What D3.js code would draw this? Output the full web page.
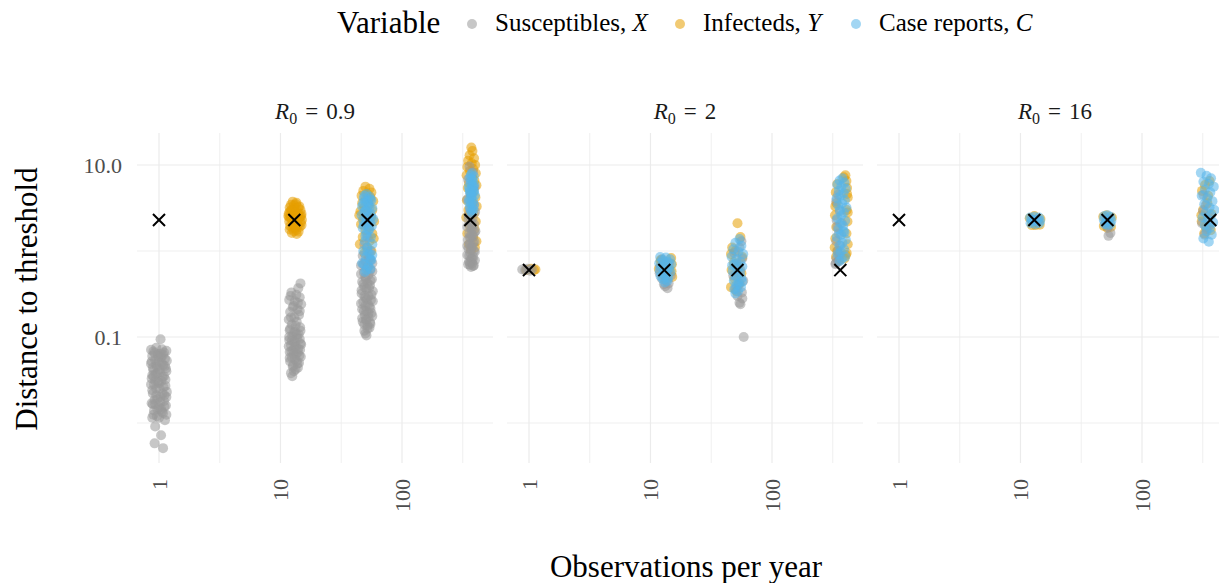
<!DOCTYPE html>
<html>
<head>
<meta charset="utf-8">
<script src="https://cdn.jsdelivr.net/npm/d3@7"></script>
<style>
  body { margin: 0; background: #fff; }
  svg { display: block; font-family: "Liberation Serif", "Times New Roman", serif; }
</style>
</head>
<body>
<div id="chart"></div>
<script>
// --- data ---

const observations = [1, 13, 52, 365];
const facetLabels = ["0.9", "2", "16"];
const truthValues = [2.29, 0.60, 2.29];

const variableNames = ["Susceptibles, ", "Infecteds, ", "Case reports, "];
const variableSymbols = ["X", "Y", "C"];
const variableColors = ["#999999", "#E69F00", "#56B4E9"];

const xTicks = [1, 10, 100];
const xMinor = [3.162, 31.62, 316.2];
const yTicks = [0.1, 10];
const yTickLabels = ["0.1", "10.0"];
const yMinor = [0.01, 1];

// [observations per year (jittered), distance to threshold]
const susceptibles09 = [
  // 1 per year
  [1.03,0.094],[0.95,0.075],[1.06,0.072],[0.90,0.068],[1.10,0.066],[0.98,0.063],[0.88,0.060],[1.04,0.058],
  [1.12,0.056],[0.93,0.054],[1.00,0.051],[0.86,0.049],[1.08,0.047],[0.96,0.045],[1.14,0.043],[0.90,0.041],
  [1.02,0.039],[0.94,0.037],[1.10,0.035],[0.87,0.033],[1.05,0.031],[0.98,0.030],[0.91,0.028],[1.13,0.027],
  [1.01,0.025],[0.88,0.024],[1.07,0.022],[0.95,0.021],[1.15,0.020],[0.92,0.0185],[1.03,0.0175],[0.89,0.0165],
  [1.11,0.0155],[0.97,0.0145],[1.06,0.0135],[0.90,0.0125],[1.00,0.0115],[1.12,0.0108],[0.93,0.0091],
  [1.04,0.0072],[0.92,0.0058],[1.08,0.0051],
  [0.86,0.071],[1.15,0.069],[0.92,0.065],[1.08,0.062],[0.99,0.059],[1.16,0.053],[0.87,0.052],[1.05,0.050],
  [0.95,0.048],[1.12,0.046],[0.89,0.044],[1.01,0.042],[1.15,0.040],[0.97,0.038],[0.88,0.036],[1.07,0.034],
  [1.13,0.032],[0.93,0.031],[1.00,0.029],[0.86,0.028],[1.09,0.026],[0.95,0.025],[1.16,0.023],[0.89,0.022],
  [1.03,0.020],[0.97,0.019],[1.10,0.018],[0.87,0.017],[1.14,0.016],[1.00,0.015],[0.91,0.014],[1.08,0.013],
  [0.96,0.012],[0.88,0.0115],[1.15,0.0125],[1.04,0.0145],[0.93,0.0165],[1.11,0.021],[0.90,0.035],[1.03,0.064],
  // 13 per year
  [14.6,0.42],[14.0,0.37],[12.3,0.33],[13.5,0.31],[14.4,0.29],[11.8,0.27],[13.1,0.26],[14.8,0.24],[12.6,0.22],
  [13.8,0.21],[12.0,0.195],[14.2,0.18],[13.0,0.17],[11.7,0.16],[13.6,0.15],[12.4,0.14],[14.5,0.13],[11.9,0.12],
  [13.2,0.115],[14.1,0.108],[12.5,0.102],[13.7,0.097],[11.8,0.092],[12.9,0.088],[14.6,0.084],[12.2,0.080],
  [13.4,0.077],[14.0,0.073],[12.7,0.070],[11.9,0.067],[13.5,0.064],[14.3,0.061],[12.4,0.058],[13.1,0.055],
  [12.0,0.052],[13.8,0.049],[12.6,0.045],[13.3,0.042],[12.2,0.038],[12.5,0.035],
  [12.1,0.30],[13.9,0.25],[12.8,0.23],[14.4,0.20],[12.2,0.17],[13.3,0.135],[12.0,0.125],[14.6,0.118],
  [12.8,0.112],[13.6,0.106],[11.8,0.100],[14.4,0.095],[12.4,0.091],[13.2,0.087],[14.8,0.082],[11.7,0.078],
  [13.0,0.075],[14.5,0.071],[12.3,0.068],[13.9,0.066],[12.9,0.063],[14.7,0.059],[11.9,0.057],[13.6,0.053],
  [14.2,0.050],[12.7,0.047],[13.9,0.044],[12.9,0.040],
  // 52 per year
  [52,1.45],[49,1.2],[55,1.0],[47.5,0.88],[53.5,0.82],[50,0.76],[57,0.72],[46,0.68],[51.5,0.64],[55,0.60],
  [48.5,0.56],[53,0.53],[50,0.50],[56.5,0.47],[47,0.44],[52,0.42],[54.5,0.40],[49,0.38],[51,0.36],[57.5,0.34],
  [46.5,0.32],[53,0.30],[50,0.285],[55.5,0.27],[48,0.255],[52.5,0.24],[54,0.225],[47,0.21],[51,0.20],[56,0.19],
  [49.5,0.18],[53,0.17],[50.5,0.16],[47.5,0.15],[55,0.142],[52,0.135],[54,0.128],[49,0.118],[50,0.11],[51,0.104],
  [55,0.78],[48,0.70],[52.5,0.66],[57,0.58],[46,0.54],[50.5,0.47],[55,0.45],[48,0.41],[53.5,0.37],[46.5,0.35],
  [56,0.31],[49,0.30],[51.5,0.275],[57.5,0.26],[46,0.245],[50,0.23],[55,0.215],[48.5,0.20],[53,0.19],[57,0.175],
  [47,0.165],[51,0.155],[54.5,0.148],[49,0.14],[52,0.125],
  // 365 per year
  [360,9.6],[385,8.2],[350,6.8],[395,5.5],[372,4.6],[345,4.0],[390,3.5],[362,3.1],[400,2.85],[352,2.6],
  [380,2.4],[368,2.2],[392,2.05],[345,1.9],[375,1.8],[402,1.7],[358,1.6],[385,1.5],[370,1.42],[348,1.35],
  [395,1.28],[362,1.2],[380,1.13],[352,1.06],[390,1.0],[366,0.95],[345,0.9],[384,0.86],[372,0.82],[398,0.78],
  [356,0.75],[378,0.72],[362,0.69],[385,0.67],[370,0.65],
  [352,2.3],[378,2.0],[395,1.65],[360,1.45],[385,1.25],[345,1.15],[372,1.08],[398,0.98],[358,0.88],[382,0.8],
  [366,0.74],[350,0.70],[390,0.68],[375,1.55],[365,1.9]
];
const infecteds09 = [
  [12.6,3.75],[13.5,3.65],[12.2,3.45],[13.4,3.5],[14.3,3.3],[11.9,3.2],[13.0,3.1],[14.6,3.0],[12.5,2.95],
  [13.8,2.85],[11.7,2.75],[14.9,2.7],[12.8,2.6],[13.6,2.55],[12.1,2.45],[14.2,2.4],[13.1,2.3],[11.8,2.2],
  [14.7,2.15],[12.6,2.1],[13.9,2.0],[12.0,1.95],[14.4,1.9],[13.3,1.85],[11.9,1.78],[12.9,1.7],[14.1,1.68],
  [12.4,1.62],[13.6,1.58],[14.5,2.5],[11.6,2.55],[15.0,2.3],
  [12.9,3.4],[14.0,3.2],[12.3,3.0],[13.3,2.8],[14.8,2.55],[12.4,2.35],[13.7,2.25],[14.9,2.0],[12.5,1.85],
  [13.5,1.75],[11.8,2.45],[13.0,1.9],[14.0,2.7],[12.0,2.9],
  [50,5.6],[54,5.3],[48,5.0],[56,4.8],[52,4.6],[46.5,4.4],[55,4.2],[50.5,4.0],[58,3.8],[47,3.6],[53,3.4],
  [49,3.2],[57,3.0],[45.5,2.9],[51,2.7],[55.5,2.5],[48,2.35],[59,2.2],[46,2.05],[53.5,1.9],[50,1.75],[57,1.6],
  [47.5,1.45],[54,1.3],[45,1.2],[51.5,1.1],[56,1.0],[49,0.95],[58.5,1.4],[44.5,2.6],
  [372,16.0],[380,14.5],[360,13.0],[392,12.0],[350,11.2],[375,10.5],[400,10.0],[345,9.5],[385,9.0],[362,8.5],
  [405,8.0],[340,7.6],[378,7.1],[395,6.6],[355,6.2],[410,5.8],[348,5.4],[388,5.0],[368,4.6],[402,4.2],[342,3.9],
  [380,3.6],[412,3.3],[352,3.0],[390,2.7],[338,2.45],[405,2.2],[360,2.0],[395,1.8],[345,1.6],[385,1.45],
  [410,1.3],[355,1.2],[398,1.1],[370,1.03]
];
const cases09 = [
  [51,4.6],[54,4.3],[48.5,4.1],[56,3.9],[50,3.7],[53,3.5],[47,3.3],[57,3.15],[51.5,3.0],[49,2.85],[55,2.7],
  [46.5,2.6],[52.5,2.45],[58,2.35],[48,2.25],[54.5,2.15],[50.5,2.05],[56.5,1.95],[47.5,1.85],[53,1.75],[51,1.6],
  [55.5,1.45],[49.5,1.3],[57,1.2],[52,1.1],[48,1.0],[54,0.92],[50.5,0.85],[56,0.78],[47,0.72],[53,0.66],
  [51,0.6],[49.5,0.57],[55,0.62],
  [49,4.4],[55,4.0],[52,3.8],[48,3.6],[54,3.2],[50,2.9],[56,2.5],[51,2.3],[48.5,2.0],[54,1.8],[50,1.5],
  [52,1.0],[55,0.8],[49,0.7],[57,0.9],
  [375,8.0],[390,7.4],[360,7.0],[382,6.6],[368,6.2],[395,5.9],[355,5.6],[378,5.3],[388,5.0],[365,4.7],
  [398,4.45],[372,4.2],[358,4.0],[385,3.8],[370,3.6],[392,3.4],[362,3.25],[380,3.1],[368,2.95],[375,2.8],
  [384,5.6],[362,4.9],[373,6.8],
  [368,7.6],[380,5.8],[360,5.2],[392,4.9],[375,4.4],[355,3.7],[388,3.0]
];

const susceptibles2 = [
  [0.88,0.61],[0.93,0.60],[0.97,0.62],[1.02,0.59],[1.06,0.61],
  [12.5,0.80],[14.2,0.72],[12.0,0.65],[13.6,0.58],[14.7,0.52],[12.4,0.48],[13.5,0.45],[14.1,0.42],[13.2,0.39],
  [13.8,0.37],[12.9,0.41],[11.9,0.55],
  [56,1.3],[54,1.1],[49,0.95],[57,0.82],[51,0.7],[55,0.6],[48,0.52],[58,0.45],[53,0.40],[50,0.36],[56.5,0.33],
  [52,0.30],[57,0.28],[54,0.25],[55,0.24],[58.5,0.10],
  [350,4.5],[338,3.8],[362,2.9],[340,2.3],[375,2.1],[345,1.9],[355,1.6],[338,1.3],[365,1.15],[348,1.0],
  [358,0.9],[340,0.82],[335,0.72],[333,0.70],[352,0.76]
];
const infecteds2 = [
  [0.95,0.60],[1.04,0.62],[1.10,0.60],[1.13,0.61],
  [14.8,0.83],[12.2,0.79],[15.0,0.70],[13.5,0.66],[11.7,0.62],[14.9,0.58],[12.9,0.55],[15.1,0.50],[13.3,0.47],
  [12.1,0.76],[14.3,0.60],[13.0,0.52],
  [52,2.1],[55,1.45],[47,1.1],[50,1.0],[46,0.92],[57,0.85],[48.5,0.74],[53,0.66],[46.5,0.6],[56,0.55],
  [49,0.48],[54,0.42],[46,0.38],[51,0.34],
  [402,7.6],[390,7.2],[410,6.5],[345,6.0],[415,5.4],[335,4.8],[420,4.2],[340,3.6],[412,3.0],[330,2.6],
  [418,2.2],[338,1.9],[410,1.6],[332,1.4],[420,1.2],[345,1.0],[405,0.9],[336,0.85],[395,0.82],[355,0.78],
  [412,0.95],[328,1.1],[420,2.8],[332,3.3],[415,4.6]
];
const cases2 = [
  [12.0,0.85],[13.4,0.84],[14.5,0.80],[12.6,0.78],[13.9,0.75],[11.8,0.72],[14.8,0.70],[13.0,0.68],[12.3,0.65],
  [14.2,0.63],[13.6,0.61],[11.9,0.59],[14.6,0.57],[12.8,0.55],[13.3,0.53],[12.1,0.51],[14.0,0.49],[12.7,0.47],
  [13.8,0.45],[13.1,0.43],
  [54,1.38],[50,1.25],[56,1.15],[48,1.05],[53,0.98],[58,0.92],[46.5,0.86],[51,0.80],[55,0.75],[49,0.70],
  [57,0.66],[52,0.62],[47.5,0.58],[54.5,0.55],[50.5,0.51],[56,0.48],[48.5,0.45],[53,0.42],[51,0.40],[55.5,0.38],
  [49,0.36],[52.5,0.34],[50,0.32],[57,0.44],[47,0.68],
  [380,7.0],[360,6.6],[395,6.2],[345,5.9],[372,5.6],[405,5.3],[355,5.0],[388,4.7],[368,4.4],[340,4.1],
  [398,3.9],[378,3.6],[350,3.4],[410,3.2],[362,3.0],[390,2.8],[372,2.6],[345,2.4],[400,2.25],[365,2.1],
  [385,1.95],[352,1.8],[395,1.65],[370,1.55],[342,1.45],[405,1.35],[380,1.25],[358,1.15],[392,1.05],[368,0.98],
  [348,0.92],[400,0.86],[375,0.80],[360,0.76],[388,1.7]
];

const susceptibles16 = [
  [12.5,2.3],[13.5,2.2],[13.0,2.28],[14.0,2.3],
  [53,1.5],[55,1.62],[52,1.9],[50,2.1],
  [335,3.4],[318,2.9],[350,2.5],[312,2.1],[340,1.8],[328,1.55],[360,2.0],[320,4.5]
];
const infecteds16 = [
  [11.9,2.4],[14.6,2.35],[12.4,2.0],[14.4,2.02],[13.0,2.55],[13.3,2.0],
  [48,2.5],[56.5,2.45],[48.5,1.95],[55.5,1.9],[52,1.85],[51,2.6],
  [330,5.85],[360,6.5],[312,5.0],[345,3.6],[318,3.0],[372,2.7],[310,2.2],[335,1.9],[325,1.6],[368,1.75],
  [308,2.6],[350,4.4]
];
const cases16 = [
  [12.0,2.45],[13.0,2.5],[14.2,2.45],[12.3,2.3],[13.6,2.3],[14.5,2.25],[12.1,2.1],[13.2,2.05],[14.3,2.1],[12.8,2.2],
  [49,2.55],[52,2.6],[55,2.5],[48.5,2.3],[53,2.3],[56,2.25],[49.5,2.05],[52.5,2.0],[55,2.05],[51,2.2],
  [305,8.1],[340,7.5],[370,7.0],[320,6.4],[355,6.0],[390,5.6],[330,5.2],[365,4.8],[310,4.4],[345,4.1],
  [380,3.8],[325,3.5],[360,3.2],[395,3.0],[335,2.8],[370,2.6],[315,2.45],[350,2.3],[385,2.15],[328,2.0],
  [362,1.85],[340,1.7],[375,1.55],[320,1.4],[355,1.28]
];

const facetSeries = [
  [susceptibles09, infecteds09, cases09],
  [susceptibles2, infecteds2, cases2],
  [susceptibles16, infecteds16, cases16]
];

// --- layout ---

const W = 1219, H = 583;
const panelLeft = [137, 507, 877];
const panelW = 356, panelTop = 133, panelH = 330;
const pointAlpha = 0.55;
const drawOrder = [1, 0, 2]; // infecteds under susceptibles under case reports

const svg = d3.select("#chart").append("svg")
    .attr("width", W)
    .attr("height", H);

const x = d3.scaleLog()
    .domain([Math.pow(10, -0.181), Math.pow(10, 2.749)])
    .range([0, panelW]);

const y = d3.scaleLog()
    .domain([Math.pow(10, -2.465), Math.pow(10, 1.372)])
    .range([panelH, 0]);

const cross = d3.symbol().type(d3.symbolTimes).size(96);

facetLabels.forEach((label, i) => {
    const g = svg.append("g")
        .attr("transform", `translate(${panelLeft[i]},${panelTop})`);

    // grid: minor then major
    g.selectAll(".ygm").data(yMinor).join("line")
        .attr("x1", 0).attr("x2", panelW)
        .attr("y1", d => y(d)).attr("y2", d => y(d))
        .attr("stroke", "#ebebeb").attr("stroke-width", 0.8);
    g.selectAll(".xgm").data(xMinor).join("line")
        .attr("x1", d => x(d)).attr("x2", d => x(d))
        .attr("y1", 0).attr("y2", panelH)
        .attr("stroke", "#ebebeb").attr("stroke-width", 0.8);
    g.selectAll(".yg").data(yTicks).join("line")
        .attr("x1", 0).attr("x2", panelW)
        .attr("y1", d => y(d)).attr("y2", d => y(d))
        .attr("stroke", "#ebebeb").attr("stroke-width", 1.2);
    g.selectAll(".xg").data(xTicks).join("line")
        .attr("x1", d => x(d)).attr("x2", d => x(d))
        .attr("y1", 0).attr("y2", panelH)
        .attr("stroke", "#ebebeb").attr("stroke-width", 1.2);

    // x tick labels, rotated
    g.selectAll(".xl").data(xTicks).join("text")
        .attr("transform", d => `translate(${x(d)},${panelH + 16}) rotate(-90)`)
        .attr("text-anchor", "end")
        .attr("dy", "0.35em")
        .attr("fill", "#4d4d4d")
        .style("font-size", "22px")
        .text(d => d3.format("d")(d));

    // y tick labels on first panel only
    if (i === 0) {
        g.selectAll(".yl").data(yTicks).join("text")
            .attr("x", -15)
            .attr("y", d => y(d))
            .attr("dy", "0.35em")
            .attr("text-anchor", "end")
            .attr("fill", "#4d4d4d")
            .style("font-size", "22px")
            .text((d, k) => yTickLabels[k]);
    }

    // strip title: R_0 = value
    const strip = g.append("text")
        .attr("x", panelW / 2)
        .attr("y", -14)
        .attr("text-anchor", "middle")
        .attr("fill", "#1a1a1a")
        .style("font-size", "23px");
    strip.append("tspan").style("font-style", "italic").text("R");
    strip.append("tspan").attr("dy", 5).style("font-size", "16px").text("0");
    strip.append("tspan").attr("dy", -5).attr("dx", 8).text("=");
    strip.append("tspan").attr("dx", 8).text(label);

    // points
    drawOrder.forEach(k => {
        g.append("g").selectAll("circle").data(facetSeries[i][k]).join("circle")
            .attr("cx", d => x(d[0]))
            .attr("cy", d => y(d[1]))
            .attr("r", 5)
            .attr("fill", variableColors[k])
            .attr("fill-opacity", pointAlpha);
    });

    // true values
    g.selectAll(".truth").data(observations).join("path")
        .attr("transform", d => `translate(${x(d)},${y(truthValues[i])})`)
        .attr("d", cross)
        .attr("fill", "none")
        .attr("stroke", "#000")
        .attr("stroke-width", 2);
});

// axis titles
svg.append("text")
    .attr("x", 686)
    .attr("y", 577)
    .attr("text-anchor", "middle")
    .style("font-size", "31px")
    .text("Observations per year");

svg.append("text")
    .attr("transform", "translate(37,299) rotate(-90)")
    .attr("text-anchor", "middle")
    .style("font-size", "31px")
    .text("Distance to threshold");

// legend
const legend = svg.append("g");
legend.append("text")
    .attr("x", 337).attr("y", 33)
    .style("font-size", "31px")
    .text("Variable");

const legendDotX = [472, 680, 856];
variableNames.forEach((name, k) => {
    legend.append("circle")
        .attr("cx", legendDotX[k]).attr("cy", 24)
        .attr("r", 5)
        .attr("fill", variableColors[k])
        .attr("fill-opacity", pointAlpha);
    const t = legend.append("text")
        .attr("x", legendDotX[k] + 23).attr("y", 31)
        .style("font-size", "25px");
    t.append("tspan").text(name);
    t.append("tspan").style("font-style", "italic").text(variableSymbols[k]);
});
</script>
</body>
</html>
